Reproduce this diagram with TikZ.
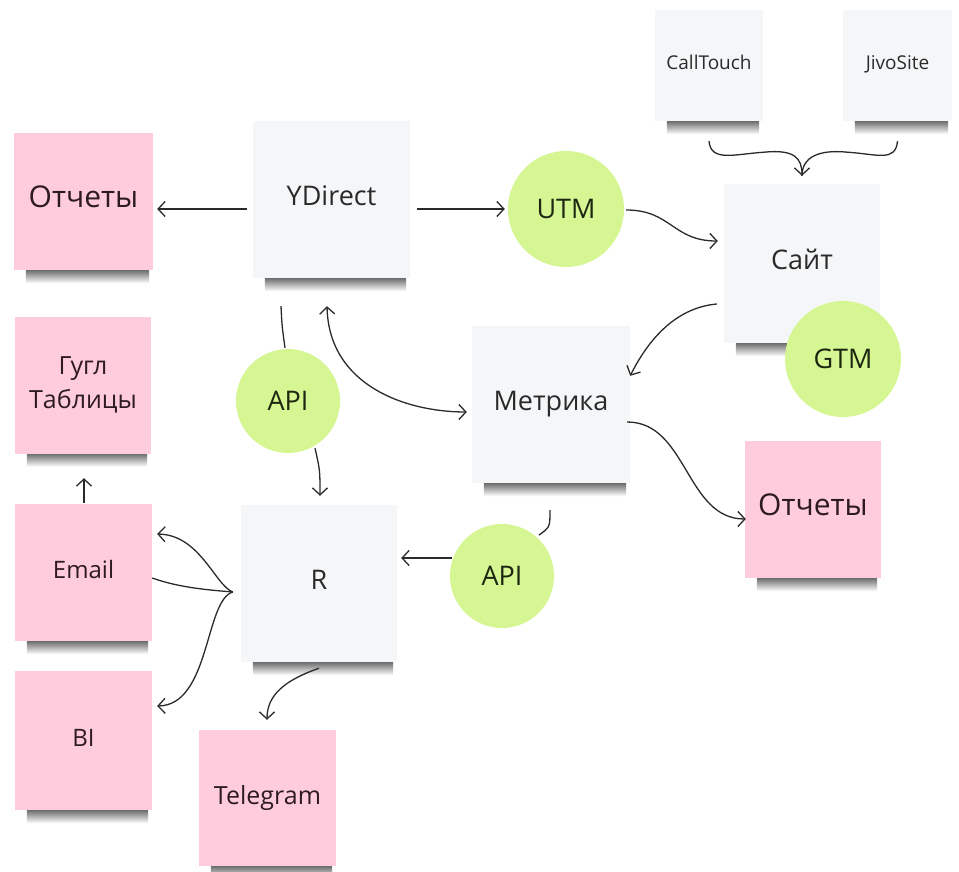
\documentclass[tikz,border=0pt]{standalone}
\usepackage{fontspec}
\setmainfont{Open Sans}
\usetikzlibrary{arrows.meta,calc,backgrounds}
\definecolor{stickygray}{HTML}{F5F6F8}
\definecolor{stickypink}{HTML}{FFCCDD}
\definecolor{dotgreen}{HTML}{D5F692}
\definecolor{ink}{HTML}{2A2A2A}
\definecolor{pinkink}{HTML}{2E1A22}
\definecolor{greenink}{HTML}{1C2610}
\tikzset{
  note/.style={rectangle, inner sep=0pt, align=center, text=ink,
    font=\fontsize{27}{34}\selectfont},
  lift/.style={text height=20pt, text depth=8pt},
  graynote/.style={note, lift, fill=stickygray},
  pinknote/.style={note, fill=stickypink, text=pinkink, font=\fontsize{25}{34}\selectfont},
  bignote/.style={lift, font=\fontsize{30}{36}\selectfont},
  smallnote/.style={font=\fontsize{19}{23}\selectfont, text height=14pt, text depth=6pt},
  dot/.style={circle, fill=dotgreen, inner sep=0pt, minimum size=#1,
    text=greenink, font=\fontsize{27}{32}\selectfont},
  conn/.style={draw=ink, line width=1.3pt},
  arr/.style={conn, -{Straight Barb[length=7pt,width=15pt]}},
  darr/.style={conn, {Straight Barb[length=7pt,width=15pt]}-{Straight Barb[length=7pt,width=15pt]}},
  noteshadow/.style={top color=black!70, middle color=black!30, bottom color=white}
}
\newcommand\stickyshadow[1]{%
  \shade[noteshadow] ($(#1.south west)+(12,-3)$) rectangle ($(#1.south east)+(-4,13)$);%
}
\begin{document}
\begin{tikzpicture}[x=1pt,y=-1pt]
\useasboundingbox (0,0) rectangle (959,872);

% sticky notes
\node[pinknote, bignote, minimum width=139pt, minimum height=137pt] (rep1) at (83.5,201.5) {Отчеты};
\node[graynote, minimum width=157pt, minimum height=157pt] (ydirect) at (331.5,199.5) {YDirect};
\node[graynote, smallnote, minimum width=108pt, minimum height=111pt] (calltouch) at (709,65.5) {CallTouch};
\node[graynote, smallnote, minimum width=109pt, minimum height=111pt] (jivo) at (897.5,65.5) {JivoSite};
\node[graynote, minimum width=156pt, minimum height=159pt] (site) at (802,263.5) {Сайт};
\node[graynote, minimum width=158pt, minimum height=157pt] (metrika) at (551,404.5) {Метрика};
\node[pinknote, bignote, minimum width=136pt, minimum height=137pt] (rep2) at (813,509.5) {Отчеты};
\node[pinknote, minimum width=136pt, minimum height=137pt] (gugl) at (83,385) {Гугл\\Таблицы};
\node[graynote, minimum width=156pt, minimum height=157pt] (r) at (319,583.5) {R};
\node[pinknote, lift, minimum width=137pt, minimum height=137pt, font=\fontsize{24}{30}\selectfont] (email) at (83.5,572.5) {Email};
\node[pinknote, lift, minimum width=137pt, minimum height=139pt, font=\fontsize{24}{30}\selectfont] (bi) at (83.5,740.5) {BI};
\node[pinknote, lift, minimum width=137pt, minimum height=136pt] (telegram) at (267.5,798) {Telegram};

\begin{pgfonlayer}{background}
  \foreach \n in {rep1,ydirect,calltouch,jivo,site,metrika,rep2,gugl,r,email,bi,telegram}{\stickyshadow{\n}}
\end{pgfonlayer}

% circles
\node[dot=116pt] (utm) at (566,209) {UTM};
\node[dot=116pt] (gtm) at (843,359) {GTM};
\node[dot=104pt] (api1) at (288,401) {API};
\node[dot=104pt] (api2) at (502,576) {API};

% connectors
\draw[arr] ($(ydirect.west)+(-6,9.5)$) -- ($(rep1.east)+(4,7.5)$);
\draw[arr] ($(ydirect.east)+(7,9.5)$) -- ($(utm.west)+(-3,0)$);
\draw[arr] ($(utm.east)+(2,1)$) .. controls +(45,0) and +(-45,0) .. ($(site.west)+(-6,-22.5)$);

% brace from CallTouch and JivoSite to Site
\coordinate (bracetip) at ($(site.north)+(0,-8)$);
\draw[arr] ($(calltouch.south)+(0,20)$) .. controls +(2,21) and +(-30,2) .. ($(calltouch.south)+(55,31)$)
   .. controls +(30,-3) and +(0,-18) .. (bracetip);
\draw[conn] ($(jivo.south)+(0,20)$) .. controls +(-2,21) and +(30,2) .. ($(jivo.south)+(-50,31)$)
   .. controls +(-30,-3) and +(0,-18) .. (bracetip);

\draw[arr] ($(site.west)+(-7,40.5)$) .. controls +(-45,4) and +(15,-30) .. ($(metrika.north east)+(0,50)$);
\draw[darr] ($(ydirect.south)+(-4.5,28)$) .. controls +(2,80) and +(-60,0) .. ($(metrika.west)+(-5,7.5)$);
\draw[conn] ($(ydirect.south)+(-50.5,28)$) .. controls +(1,20) .. ($(api1.north)+(-3,-1)$);
\draw[arr] ($(api1.south)+(27,-5)$) .. controls +(5,22) .. ($(r.north)+(1,-9)$);
\draw[conn] ($(metrika.south)+(-1,27)$) .. controls +(0,17) .. ($(api2.north east)+(0,-4)$);
\draw[arr] ($(api2.west)+(2,-18)$) -- ($(r.east)+(4,-25.5)$);
\draw[arr] ($(metrika.east)+(-3,17.5)$) .. controls +(60,0) and +(-60,0) .. ($(rep2.west)+(1,9.5)$);

% hub left of R
\coordinate (hub) at ($(r.west)+(-8,8.5)$);
\draw[arr] (hub) .. controls +(-18,-7) and +(43,1) .. ($(email.east)+(5,-38.5)$);
\draw[conn] ($(email.east)+(0,5.5)$) .. controls +(28,10) and +(-23,-2) .. (hub);
\draw[arr] (hub) .. controls +(-28,8) and +(53,-1) .. ($(bi.east)+(5,-34.5)$);

\draw[arr] ($(email.north)+(0.5,-1)$) -- ($(gugl.south)+(1,24.5)$);
\draw[arr] ($(r.south)+(0,6)$) .. controls +(-34,12) and +(0,-25) .. ($(telegram.north)+(-0.5,-10)$);
\end{tikzpicture}
\end{document}
